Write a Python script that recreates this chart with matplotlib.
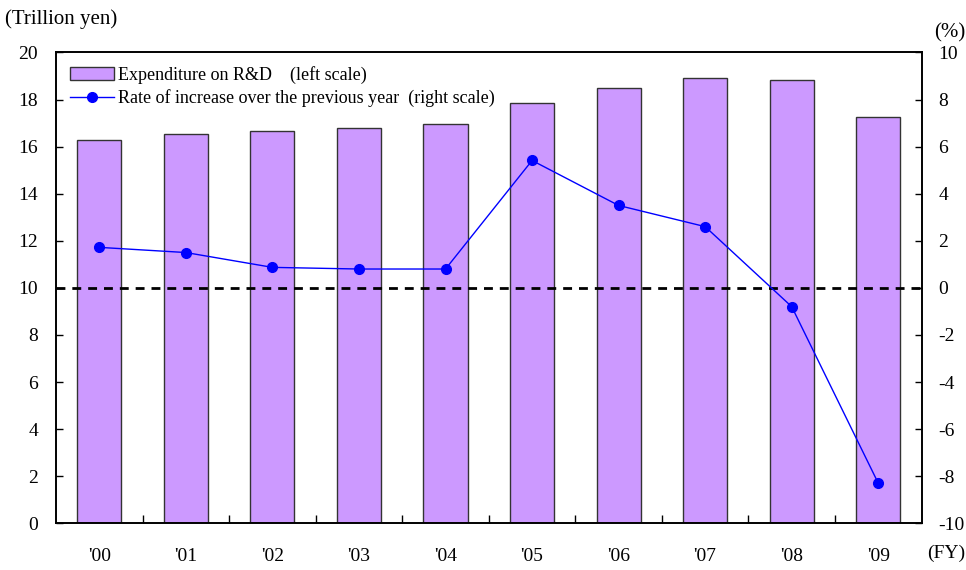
import numpy as np
import matplotlib.pyplot as plt

# data
years = ["'00", "'01", "'02", "'03", "'04", "'05", "'06", "'07", "'08", "'09"]
expenditure = [16.26, 16.55, 16.65, 16.8, 16.94, 17.86, 18.51, 18.93, 18.81, 17.25]   # trillion yen
growth = [1.72, 1.5, 0.87, 0.8, 0.8, 5.41, 3.5, 2.6, -0.8, -8.3]                      # % vs prev. year

plt.rcParams.update({"font.family": ["Liberation Serif", "DejaVu Serif"],
                     "font.size": 14, "axes.unicode_minus": False})

fig = plt.figure(figsize=(9.66, 5.70), dpi=100)
ax = fig.add_axes([0.058, 0.082, 0.896, 0.826])
ax2 = ax.twinx()

x = np.arange(len(years))
ax.bar(x, expenditure, width=0.51, color="#CC99FF", edgecolor="#333333", lw=1.0,
       label="Expenditure on R&D    (left scale)", zorder=2)
ax2.plot(x, growth, "-o", color="#0000FF", lw=1.0, ms=7,
         label="Rate of increase over the previous year  (right scale)", zorder=3)
ax2.axhline(0, color="black", ls=(0, (3.2, 2.5)), lw=2.0, zorder=1)

ax.set_xlim(-0.5, len(years) - 0.5)
ax.set_ylim(0, 20)
ax.set_yticks(np.arange(0, 21, 2))
ax2.set_ylim(-10, 10)
ax2.set_yticks(np.arange(-10, 11, 2))

# ticks between categories, labels centred under bars
ax.set_xticks(x[:-1] + 0.5)
ax.set_xticklabels([])
ax.set_xticks(x, minor=True)
ax.set_xticklabels(years, minor=True)
ax.tick_params(axis="x", which="major", direction="in", length=6, width=1)
ax.tick_params(axis="x", which="minor", length=0, pad=18)
ax.tick_params(axis="y", direction="in", length=5, width=1, pad=13)
ax2.tick_params(axis="y", direction="in", length=5, width=1, pad=12)
for a in (ax, ax2):
    for s in a.spines.values():
        s.set_linewidth(1.2)

fig.text(0.005, 0.967, "(Trillion yen)", ha="left", va="center", fontsize=15)
fig.text(0.999, 0.943, "(%)", ha="right", va="center", fontsize=15)
fig.text(0.999, 0.029, "(FY)", ha="right", va="center", fontsize=14)

h1, l1 = ax.get_legend_handles_labels()
h2, l2 = ax2.get_legend_handles_labels()
ax2.legend(h1 + h2, l1 + l2, loc="upper left", bbox_to_anchor=(0.004, 0.995),
           frameon=False, fontsize=13, handlelength=2.4, labelspacing=0.3,
           handletextpad=0.25, borderaxespad=0.2)

fig.savefig("out.png", dpi=100)
